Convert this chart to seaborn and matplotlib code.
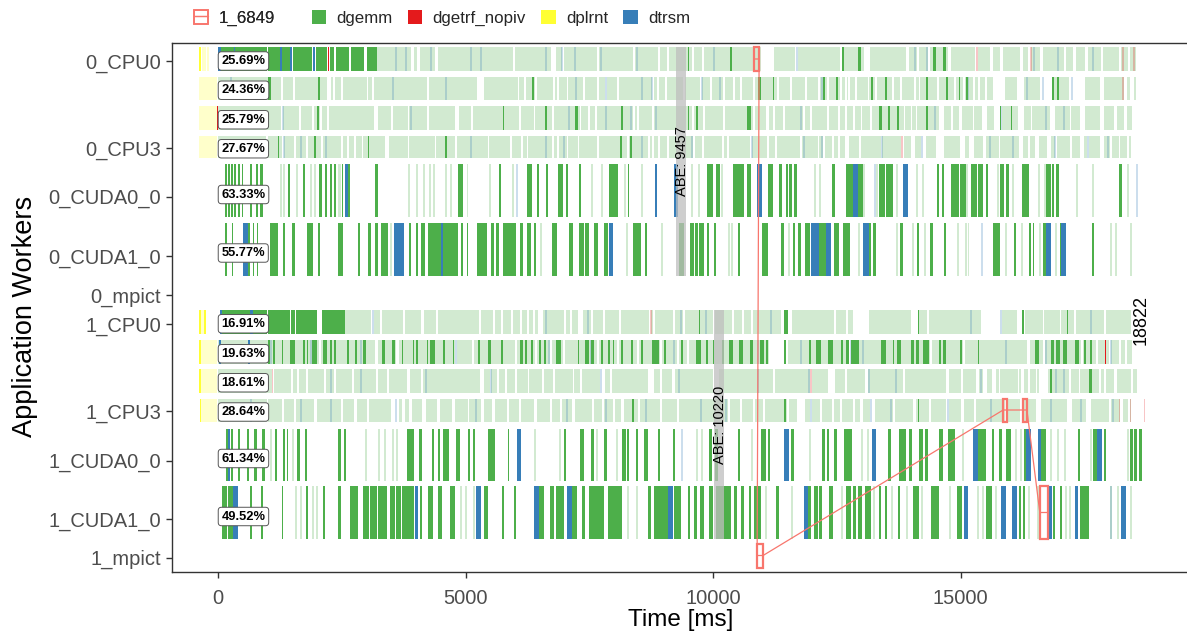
import matplotlib
matplotlib.use("Agg")
import matplotlib.pyplot as plt
from matplotlib.patches import Rectangle, Patch
from matplotlib.lines import Line2D
from matplotlib.legend_handler import HandlerTuple
import seaborn as sns

# ---------------------------------------------------------------- data
# Tasks per worker lane, (start, end) in ms.  "_reg" = regular tasks (drawn faded),
# "_out" = outlier tasks (drawn in full colour).

W0_CPU0 = {
    "dplrnt_out": [(-380, -345)],
    "dplrnt_reg": [(-330, -250), (-230, -180)],
    "dgemm_reg": [(3220, 3900), (3960, 4020), (4080, 4390), (4440, 5950), (5990, 6720), (6820, 6940),
                  (6990, 7650), (7690, 8380), (8420, 8880), (8930, 9070), (9110, 9570), (9620, 9780),
                  (9820, 10970), (11240, 11660), (11710, 12570), (12610, 13050), (13180, 13900),
                  (13950, 14120), (14170, 14350), (14390, 14750), (14800, 15300), (15350, 15600),
                  (15650, 15800), (15850, 16210), (16260, 16370), (16420, 16610), (16660, 17080),
                  (17130, 17280), (17330, 17520), (17570, 17830), (17880, 18190), (18240, 18380),
                  (18420, 18540)],
    "dgemm_out": [(60, 330), (350, 990), (1010, 1460), (1520, 1900), (1980, 2200), (2270, 2350),
                  (2390, 2650), (2690, 2950), (3000, 3220), (9490, 9520), (10340, 10380),
                  (12600, 12650), (12930, 12990), (14450, 14510), (14650, 14710)],
    "dtrsm_reg": [(3580, 3620), (3780, 3820), (4290, 4330), (5100, 5140), (5300, 5340), (6600, 6640),
                  (6920, 6960), (7190, 7230), (7720, 7760), (8440, 8480), (10000, 10040),
                  (11670, 11710), (14060, 14100), (14300, 14340), (16460, 16500), (16940, 16980),
                  (17650, 17690)],
    "dtrsm_out": [(0, 60), (330, 350), (1250, 1300), (1460, 1500), (1920, 1960)],
    "dgetrf_nopiv_reg": [(15320, 15350), (16410, 16440), (18270, 18300), (18490, 18520)],
    "dgetrf_nopiv_out": [(2225, 2250)],
}

W0_CPU1 = {
    "dplrnt_reg": [(-385, -20)],
    "dgemm_reg": [(0, 1270), (1320, 1520), (1560, 2200), (2280, 2330), (2370, 2490), (2530, 3000),
                  (3040, 3120), (3160, 4230), (4270, 5230), (5370, 6050), (6090, 6190), (6230, 6400),
                  (6440, 6760), (6800, 6840), (6880, 7040), (7080, 7370), (7410, 7650), (7690, 7810),
                  (7850, 8060), (8100, 8760), (8800, 8870), (8910, 9030), (9070, 9390), (9430, 9740),
                  (9780, 9940), (9980, 10200), (10240, 10400), (10440, 10550), (10590, 10810),
                  (10850, 11290), (11330, 11550), (11590, 11860), (11900, 12120), (12160, 12300),
                  (12340, 12570), (12610, 12670), (12710, 12730), (12770, 12870), (12910, 13120),
                  (13160, 13280), (13320, 13620), (13660, 13780), (13820, 14050), (14090, 14150),
                  (14190, 14530), (14570, 14860), (14900, 15040), (15080, 15260), (15300, 15360),
                  (15400, 15500), (15540, 15650), (15890, 16130), (16290, 16600), (16840, 17180),
                  (17510, 17810), (17890, 18300), (18360, 18420), (18500, 18540)],
    "dgemm_out": [(1010, 1070), (2020, 2060), (6340, 6380), (10910, 10970), (11210, 11240),
                  (12230, 12270), (12490, 12520), (13200, 13240), (13480, 13520), (14310, 14350),
                  (14710, 14750), (14960, 14990), (15100, 15140), (16840, 16880), (16940, 16980)],
    "dtrsm_reg": [(240, 280), (3520, 3560), (4590, 4630), (7220, 7260), (7810, 7850), (8540, 8580),
                  (8740, 8780), (9760, 9800), (10120, 10160), (12180, 12220), (15120, 15160),
                  (16330, 16370), (16640, 16680), (17240, 17280)],
    "dgetrf_nopiv_reg": [(18260, 18300)],
}

W0_CPU2 = {
    "dplrnt_reg": [(-385, -30)],
    "dgetrf_nopiv_out": [(-30, 0)],
    "dgemm_reg": [(0, 1280), (1310, 1640), (1680, 1900), (1940, 2070), (2100, 2210), (2240, 3150),
                  (3240, 3500), (3540, 3830), (3860, 4230), (4270, 4790), (4860, 5120), (5160, 6090),
                  (6130, 6380), (6410, 6740), (6780, 7310), (7340, 7470), (7510, 7610), (7650, 8380),
                  (8420, 8460), (8500, 8770), (8800, 9570), (9610, 9800), (9830, 10200), (10240, 10810),
                  (10840, 11070), (11140, 11210), (11250, 11420), (11450, 11820), (11860, 11960),
                  (12000, 12310), (12340, 12530), (12570, 12670), (12710, 12830), (12870, 12980),
                  (13010, 13180), (13210, 13850), (13880, 13990), (14020, 14090), (14120, 14560),
                  (14670, 14810), (14850, 14960), (15020, 15260), (15280, 15440), (15540, 15670),
                  (15830, 16150), (16290, 16430), (16450, 16800), (16900, 17200), (17240, 17410),
                  (17510, 17810), (17890, 18090), (18150, 18300), (18360, 18460)],
    "dgemm_out": [(2000, 2040), (5750, 5770), (6600, 6640), (7210, 7270), (8140, 8180), (9490, 9510),
                  (9650, 9690), (10690, 10770), (13360, 13420), (13540, 13580), (13720, 13760),
                  (14310, 14350), (15790, 15810), (16010, 16030)],
    "dtrsm_reg": [(1300, 1340), (3880, 3920), (7070, 7110), (7810, 7850), (8320, 8360), (8830, 8870),
                  (11760, 11800), (14470, 14510), (15800, 15840), (16700, 16740), (17060, 17100)],
}

W0_CPU3 = {
    "dplrnt_reg": [(-385, -20)],
    "dgemm_reg": [(0, 970), (1010, 1300), (1340, 1540), (1580, 1780), (1820, 2090), (2120, 2490),
                  (2530, 2610), (2650, 2750), (2790, 2900), (2930, 3370), (3450, 3830), (3860, 4380),
                  (4410, 4780), (4820, 5450), (5480, 5890), (5930, 6130), (6170, 6240), (6270, 6740),
                  (6780, 6840), (6880, 7040), (7080, 7270), (7300, 7650), (7690, 8260), (8300, 8690),
                  (8720, 8770), (8800, 8890), (8920, 9070), (9110, 9600), (9630, 9780), (9810, 10180),
                  (10220, 10290), (10320, 10750), (10790, 11090), (11130, 11260), (11290, 11760),
                  (11800, 12110), (12140, 12230), (12260, 12410), (12440, 12530), (12570, 12670),
                  (12750, 12950), (12990, 13400), (13420, 13800), (13860, 14000), (14070, 14210),
                  (14310, 14510), (14670, 14980), (15080, 15180), (15280, 15460), (15520, 15770),
                  (15790, 16190), (16270, 16370), (16410, 16500), (16580, 16740), (16820, 16900),
                  (16940, 17200), (17260, 17410), (17490, 17550), (17590, 17810), (17890, 18010),
                  (18050, 18200), (18220, 18360), (18400, 18440)],
    "dgemm_out": [(1210, 1240), (1940, 1980), (3030, 3060), (4590, 4630), (8130, 8160), (8330, 8360)],
    "dtrsm_reg": [(1310, 1350), (1660, 1700), (2160, 2200), (5100, 5140), (6600, 6640), (6960, 7000),
                  (8540, 8580), (9550, 9590), (10760, 10800), (11820, 11860), (12180, 12220),
                  (13400, 13440), (14210, 14250), (15580, 15620), (16030, 16070), (16880, 16920),
                  (17550, 17590), (17950, 17990)],
    "dgetrf_nopiv_reg": [(13790, 13830)],
}

W0_CUDA0 = {
    "dgemm_reg": [(1255, 1295), (1316, 1356), (1579, 1619), (1862, 1902), (1943, 1983), (2429, 2469),
                  (2469, 2490), (3846, 3886), (4008, 4048), (4149, 4189), (4271, 4311), (4352, 4392),
                  (4594, 4634), (4696, 4736), (5020, 5060), (5465, 5505), (5930, 5970), (7529, 7569),
                  (7732, 7772), (8197, 8237), (8541, 8581), (9553, 9593), (9695, 9735), (10160, 10200),
                  (12043, 12083), (12144, 12184), (12893, 12933), (13034, 13074), (13298, 13338),
                  (13399, 13439), (13702, 13742), (14107, 14147), (14229, 14269), (15119, 15159),
                  (15726, 15766), (16030, 16070), (16556, 16596), (16678, 16718), (17325, 17365),
                  (17649, 17689), (18358, 18398)],
    "dgemm_out": [(140, 180), (200, 240), (260, 300), (320, 360), (400, 450), (490, 510), (650, 690),
                  (770, 810), (850, 910), (1420, 1460), (1720, 1760), (2040, 2100), (2170, 2210),
                  (2270, 2310), (2350, 2390), (2510, 2530), (2630, 2670), (3180, 3240), (4840, 4940),
                  (5670, 5710), (6250, 6340), (6440, 6480), (6620, 6660), (6860, 6960), (7020, 7080),
                  (7290, 7330), (7890, 8080), (8280, 8300), (9880, 10000), (10060, 10140),
                  (10400, 10630), (10690, 10770), (11110, 11210), (11330, 11400), (11480, 11520),
                  (11540, 11600), (11640, 11700), (12410, 12470), (12690, 12750), (12750, 12830),
                  (12930, 13030), (13360, 13480), (13500, 13640), (14530, 14570), (14630, 14670),
                  (14800, 14960), (14980, 15100), (15220, 15340), (15360, 15460), (15520, 15560),
                  (15790, 15870), (15910, 15970), (16250, 16390), (16720, 16820), (16840, 16880),
                  (16920, 16980), (18200, 18260)],
    "dtrsm_reg": [(6010, 6050), (12990, 13030), (13250, 13290), (18540, 18580)],
    "dtrsm_out": [(2570, 2630), (8820, 8860), (9210, 9290), (10890, 10990), (12830, 12930),
                  (13840, 13940)],
}

W0_CUDA1 = {
    "dgemm_reg": [(3480, 3520), (6500, 6540), (8240, 8280), (8950, 8990), (10300, 10340),
                  (10360, 10400), (11520, 11560), (12930, 12970), (13700, 13740), (14010, 14050),
                  (14270, 14310), (14920, 14960), (15080, 15120), (15140, 15180), (15890, 15930),
                  (16230, 16270), (16580, 16620), (16900, 16940), (18010, 18050), (18120, 18160),
                  (18420, 18460)],
    "dgemm_out": [(140, 180), (280, 300), (610, 650), (700, 730), (780, 810), (1050, 1210),
                  (1320, 1360), (1500, 1560), (1800, 1920), (2020, 2060), (2430, 2530), (2830, 2870),
                  (3040, 3100), (3180, 3240), (3300, 3440), (3850, 3890), (3990, 4050), (4110, 4190),
                  (4250, 4510), (4550, 4840), (4900, 4940), (5020, 5060), (5240, 5440), (5510, 5570),
                  (5610, 5670), (5750, 6010), (6110, 6170), (6250, 6320), (6380, 6420), (6740, 6840),
                  (7100, 7170), (7290, 7390), (7410, 7490), (7590, 7670), (7790, 7870), (8380, 8540),
                  (8620, 8660), (9310, 9410), (9530, 9610), (9630, 9690), (9720, 9820), (9880, 9920),
                  (10020, 10060), (10500, 10550), (10990, 11110), (11370, 11440), (11620, 11660),
                  (11720, 11780), (11860, 11960), (12140, 12290), (12450, 12550), (12630, 12770),
                  (13160, 13200), (13240, 13300), (13780, 13840), (14110, 14150), (14390, 14450),
                  (14670, 14710), (15650, 15790), (16070, 16110), (16390, 16430), (16460, 16480),
                  (16660, 16720), (17000, 17020), (17650, 17690)],
    "dtrsm_reg": [(15410, 15450)],
    "dtrsm_out": [(510, 610), (3560, 3760), (4510, 4550), (7890, 7970), (11980, 12140),
                  (12290, 12390), (13030, 13160), (16720, 16820), (17020, 17120)],
}

W1_CPU0 = {
    "dplrnt_out": [(-385, -345), (-280, -240)],
    "dplrnt_reg": [(-340, -290)],
    "dgemm_reg": [(2570, 3100), (3160, 3280), (3320, 3730), (3770, 4100), (4160, 4410), (4450, 5280),
                  (5320, 5560), (5600, 5720), (5760, 5920), (5960, 6100), (6140, 6250), (6290, 6360),
                  (6400, 6460), (6560, 6980), (7020, 7120), (7160, 7280), (7380, 7540), (7580, 7770),
                  (7810, 8100), (8140, 8710), (8750, 8790), (8830, 9190), (9230, 9390), (9430, 9990),
                  (10030, 10380), (10420, 10590), (10630, 10770), (10810, 11370), (11590, 12450),
                  (12490, 12690), (12730, 12830), (13160, 13990), (14170, 14330), (14370, 15410),
                  (15830, 16130), (16300, 16660), (16680, 17000), (17020, 17300), (17330, 17900),
                  (17930, 18440)],
    "dgemm_out": [(80, 640), (700, 1000), (1010, 1460), (1480, 1560), (1580, 2000), (2100, 2570),
                  (9710, 9740), (11430, 11520), (14130, 14170), (16250, 16280), (17140, 17170)],
    "dtrsm_reg": [(3110, 3150), (6600, 6640), (7450, 7490), (9330, 9370), (9840, 9880),
                  (11150, 11190), (15190, 15230), (15800, 15840), (17610, 17650)],
    "dtrsm_out": [(40, 80), (640, 700)],
    "dgetrf_nopiv_reg": [(8720, 8760)],
}

W1_CPU1 = {
    "dplrnt_out": [(-385, -345)],
    "dplrnt_reg": [(-345, -20)],
    "dgemm_reg": [(0, 2040), (2090, 3170), (3240, 3600), (3650, 4780), (4820, 5140), (5180, 5990),
                  (6030, 6400), (6440, 6700), (6740, 6960), (7000, 7650), (7690, 8060), (8100, 8460),
                  (8500, 8930), (8970, 9270), (9310, 9470), (9510, 11130), (11520, 12750),
                  (12790, 14390), (14430, 15040), (15080, 16340), (16410, 16660), (16700, 17430),
                  (17470, 17730), (17770, 17990), (18030, 18200), (18240, 18320), (18360, 18460)],
    "dgemm_out": [(1010, 1050), (1110, 1150), (1300, 1320), (1460, 1560), (1720, 1760), (1800, 1820),
                  (1900, 2000), (2130, 2210), (2270, 2310), (2350, 2390), (2610, 2650), (2770, 2810),
                  (2930, 2980), (3320, 3380), (3520, 3580), (3720, 3740), (3930, 3950), (3990, 4050),
                  (4230, 4250), (4290, 4390), (4550, 4590), (4740, 4760), (5260, 5300), (5460, 5510),
                  (5710, 5750), (6110, 6170), (6210, 6250), (6320, 6360), (6480, 6520), (6580, 6620),
                  (6820, 6920), (7270, 7290), (7410, 7490), (7530, 7590), (7730, 7770), (7870, 7910),
                  (7970, 7990), (8140, 8180), (8340, 8380), (8540, 8580), (8760, 8900), (9010, 9050),
                  (9350, 9390), (9650, 9760), (9860, 9900), (10000, 10020), (10180, 10220),
                  (10320, 10400), (10520, 10610), (10750, 10810), (10950, 11030), (11070, 11110),
                  (11430, 11480), (11940, 11980), (12080, 12180), (12330, 12430), (12590, 12630),
                  (12690, 12750), (12790, 12950), (13400, 13500), (13640, 13660), (13720, 13800),
                  (13990, 14050), (14090, 14170), (14250, 14370), (14570, 14610), (14650, 14710),
                  (14980, 15020), (15360, 15380), (16500, 16580), (16820, 16880), (16920, 17000),
                  (17060, 17140), (17310, 17390), (17490, 17530), (17610, 17650)],
    "dtrsm_reg": [(1050, 1090), (1860, 1900), (2870, 2910), (4790, 4830), (6670, 6710), (7510, 7550),
                  (9190, 9230), (10890, 10930), (11760, 11800), (12770, 12810), (13010, 13050),
                  (15900, 15940), (16700, 16740), (18020, 18060)],
    "dtrsm_out": [(30, 70), (600, 640)],
    "dgetrf_nopiv_out": [(17910, 17940)],
}

W1_CPU2 = {
    "dplrnt_out": [(-385, -350)],
    "dplrnt_reg": [(-350, -20)],
    "dgemm_reg": [(0, 1100), (1130, 1480), (1520, 1600), (1640, 1780), (1820, 2150), (2190, 2350),
                  (2390, 2710), (2750, 3200), (3240, 3420), (3460, 3810), (3870, 4110), (4150, 5290),
                  (5380, 5490), (5520, 5630), (5670, 5790), (5830, 5990), (6030, 6260), (6290, 6540),
                  (6580, 6760), (6800, 7170), (7200, 7310), (7350, 7720), (7810, 7920), (7950, 8690),
                  (8800, 8930), (8960, 9170), (9230, 9990), (10110, 11210), (11250, 11960),
                  (12000, 12330), (12460, 12670), (12710, 13070), (13120, 13840), (13880, 14700),
                  (14770, 15000), (15040, 15320), (15380, 15460), (15540, 15630), (15710, 15780),
                  (15800, 16160), (16190, 16220), (16290, 16360), (16400, 16520), (16540, 16580),
                  (16760, 17180), (17230, 17390), (17420, 17610), (17640, 17800), (17830, 17900),
                  (17930, 18100), (18160, 18450), (18490, 18560)],
    "dgemm_out": [(16810, 16840), (17590, 17650)],
    "dtrsm_reg": [(2260, 2300), (2870, 2910), (4180, 4220), (5490, 5530), (7720, 7760), (9290, 9330),
                  (10890, 10930), (11920, 11960), (13130, 13170), (13670, 13710), (15390, 15430),
                  (16910, 16950), (17070, 17110)],
    "dgetrf_nopiv_reg": [(1090, 1110), (11960, 12000)],
}

W1_CPU3 = {
    "dplrnt_out": [(-370, -340)],
    "dplrnt_reg": [(-340, -20)],
    "dgemm_reg": [(0, 980), (1010, 1300), (1340, 1540), (1580, 1940), (1990, 2490), (2530, 2750),
                  (2800, 3010), (3060, 3500), (3660, 3720), (3770, 3860), (3910, 4130), (4210, 4430),
                  (4480, 4730), (4780, 5040), (5080, 5320), (5370, 5540), (5590, 5830), (5870, 6090),
                  (6130, 6390), (6440, 6700), (6740, 6900), (6950, 7160), (7210, 7550), (7590, 7750),
                  (7800, 7970), (8020, 8150), (8200, 8480), (8520, 8920), (8970, 9270), (9310, 10300),
                  (10340, 10540), (10590, 10800), (10850, 11010), (11050, 11500), (11540, 11700),
                  (11860, 11960), (12000, 12160), (12210, 12400), (12450, 12570), (12610, 12830),
                  (12870, 12970), (13020, 13170), (13280, 13640), (13680, 14040), (14090, 14370),
                  (14410, 14710), (14760, 15010), (15060, 15280), (15320, 15900), (15950, 16210),
                  (16250, 16530), (16620, 17140), (17250, 17530), (17630, 17990), (18040, 18230),
                  (18280, 18380), (18420, 18440)],
    "dgemm_out": [(8360, 8400), (11430, 11480), (14130, 14170)],
    "dtrsm_reg": [(650, 690), (1660, 1700), (2260, 2300), (3580, 3620), (5190, 5230), (7030, 7070),
                  (7820, 7860), (8630, 8670), (9740, 9780), (10240, 10280), (11960, 12000),
                  (13170, 13210), (13570, 13610), (14730, 14770), (15600, 15640), (16810, 16850),
                  (17420, 17460), (18060, 18100)],
    "dgetrf_nopiv_reg": [(18200, 18230), (18420, 18450), (18700, 18730)],
}

W1_CUDA0 = {
    "dgemm_reg": [(1052, 1092), (1498, 1538), (2975, 3015), (3238, 3278), (3360, 3400), (3522, 3562),
                  (3603, 3643), (6376, 6416), (6882, 6922), (7630, 7670), (8035, 8075), (9654, 9694),
                  (9756, 9796), (10768, 10808), (11942, 11982), (12994, 13034), (13116, 13156),
                  (15038, 15078), (16091, 16131), (16192, 16232), (16799, 16839), (16941, 16981),
                  (17083, 17123), (17609, 17649), (18358, 18398)],
    "dgemm_out": [(160, 200), (260, 300), (400, 450), (590, 630), (730, 790), (890, 950), (1150, 1190),
                  (1320, 1360), (1400, 1420), (1600, 1660), (1760, 1800), (2430, 2490), (2550, 2590),
                  (3810, 3950), (4070, 4130), (4330, 4370), (4450, 4490), (4550, 4660), (4800, 4880),
                  (5060, 5100), (5160, 5200), (5460, 5590), (5850, 5870), (6980, 7020), (7310, 7390),
                  (7530, 7590), (7790, 7850), (8160, 8240), (8260, 8300), (8440, 8480), (8600, 8680),
                  (8890, 8930), (9190, 9230), (9920, 9980), (10040, 10100), (10500, 10550),
                  (10970, 11070), (11110, 11150), (11580, 11640), (12200, 12270), (12310, 12350),
                  (12450, 12510), (12650, 12750), (12750, 12810), (13540, 13600), (13760, 13900),
                  (13950, 14010), (14150, 14250), (14290, 14350), (14570, 14650), (14750, 14880),
                  (15360, 15520), (15630, 15670), (15770, 15830), (15910, 16010), (16290, 16330),
                  (16620, 16720), (17370, 17410), (17670, 17750), (17890, 17930), (18420, 18480),
                  (18500, 18560), (18600, 18660)],
    "dtrsm_reg": [(9350, 9390)],
    "dtrsm_out": [(200, 240), (6030, 6130), (11440, 11540), (13220, 13300), (15260, 15360),
                  (16330, 16430), (16560, 16620), (17750, 17850)],
}

W1_CUDA1 = {
    "dgemm_reg": [(1558, 1598), (1660, 1700), (1903, 1943), (1983, 2023), (4898, 4938), (4999, 5039),
                  (5161, 5201), (8258, 8298), (8440, 8480), (11051, 11091), (11577, 11617),
                  (12589, 12629), (13237, 13277), (13601, 13641), (13905, 13945), (14209, 14249),
                  (14775, 14815), (15322, 15362), (15423, 15463), (15686, 15726), (16354, 16394),
                  (16536, 16576), (17103, 17143), (17184, 17224), (18014, 18054), (18155, 18195),
                  (18419, 18459)],
    "dgemm_out": [(80, 180), (200, 300), (650, 690), (870, 910), (1300, 1320), (1780, 1820),
                  (2130, 2170), (2430, 2490), (2670, 2830), (2930, 3060), (3080, 3220), (3240, 3320),
                  (3320, 3420), (3480, 3580), (3600, 3700), (3720, 3950), (4090, 4130), (4250, 4350),
                  (4450, 4530), (4680, 4780), (5380, 5460), (5730, 5770), (5970, 6010), (6480, 6580),
                  (6700, 6780), (6820, 6980), (7140, 7250), (7350, 7410), (7490, 7790), (7870, 8160),
                  (8680, 8740), (8800, 9090), (9210, 9350), (9490, 9530), (9610, 9670), (9740, 9820),
                  (9920, 10000), (10060, 10360), (10420, 10480), (10570, 10630), (10730, 10770),
                  (10830, 10970), (11270, 11330), (11920, 11980), (12040, 12120), (12140, 12200),
                  (12350, 12430), (12690, 12790), (12830, 12890), (12930, 13010), (13070, 13200),
                  (13360, 13400), (13480, 13520), (13740, 13780), (14030, 14150), (14410, 14570),
                  (14920, 15020), (15520, 15630), (16190, 16230), (16270, 16310), (16860, 16900),
                  (17000, 17040), (17410, 17590)],
    "dtrsm_reg": [(16090, 16130), (18010, 18050)],
    "dtrsm_out": [(300, 400), (3970, 4030), (5220, 5320), (6380, 6480), (7040, 7150), (9090, 9190),
                  (11840, 11920), (15060, 15140), (15810, 15910), (16030, 16130), (16740, 16840),
                  (17310, 17370), (18240, 18340)],
}

# Worker lanes: name, tasks, busy percentage
LANE_NAMES = ["0_CPU0", "0_CPU1", "0_CPU2", "0_CPU3", "0_CUDA0_0", "0_CUDA1_0",
              "1_CPU0", "1_CPU1", "1_CPU2", "1_CPU3", "1_CUDA0_0", "1_CUDA1_0"]
LANE_TASKS = [W0_CPU0, W0_CPU1, W0_CPU2, W0_CPU3, W0_CUDA0, W0_CUDA1,
              W1_CPU0, W1_CPU1, W1_CPU2, W1_CPU3, W1_CUDA0, W1_CUDA1]
BUSY_PCT = ["25.69%", "24.36%", "25.79%", "27.67%", "63.33%", "55.77%",
            "16.91%", "19.63%", "18.61%", "28.64%", "61.34%", "49.52%"]

# Critical path of task 1_6849 (lane, start, end)
PATH_LANES = ["0_CPU0", "1_mpict", "1_CPU3", "1_CPU3", "1_CUDA1_0"]
PATH_START = [10830, 10890, 15860, 16260, 16600]
PATH_END = [10930, 11010, 15940, 16340, 16770]
PATH_NAME = "1_6849"

# Anticipated bound estimate per node, and makespan
ABE_NODES = ["0", "1"]
ABE_VALUES = [9457, 10220]
MAKESPAN = 18822

Y_TICK_LABELS = ["0_CPU0", "0_CPU3", "0_CUDA0_0", "0_CUDA1_0", "0_mpict",
                 "1_CPU0", "1_CPU3", "1_CUDA0_0", "1_CUDA1_0", "1_mpict"]
X_TICKS = [0, 5000, 10000, 15000]

# ---------------------------------------------------------------- layout (vertical lane geometry)
LANE_EXTENT = {
    "0_CPU0": (47, 71), "0_CPU1": (76.5, 100), "0_CPU2": (106, 129.5), "0_CPU3": (135.5, 158),
    "0_CUDA0_0": (164, 217), "0_CUDA1_0": (222.5, 275.5),
    "1_CPU0": (310, 333.5), "1_CPU1": (340, 363.5), "1_CPU2": (369, 392.5), "1_CPU3": (398.5, 421.5),
    "1_CUDA0_0": (428.5, 480.5), "1_CUDA1_0": (486, 539), "1_mpict": (543.5, 567.5),
}
Y_TICK_POS = [61, 148.3, 196.7, 256, 295, 324, 411, 460.7, 519, 557.7]
NODE_SPAN = {"0": (47, 275.5), "1": (310, 539)}
Y_LIMITS = (572, 42.5)
X_LIMITS = (-929, 19735)

# ---------------------------------------------------------------- style
sns.set_theme(style="ticks")
plt.rcParams["font.family"] = ["Liberation Sans", "DejaVu Sans"]

set1 = sns.color_palette("Set1")
STATE_COLORS = {"dgemm": set1[2], "dgetrf_nopiv": set1[0], "dplrnt": set1[5], "dtrsm": set1[1]}
PATH_COLOR = "#F8766D"
REG_ALPHA = 0.25

fig = plt.figure(figsize=(11.87, 6.37), dpi=100)
W, H = 1187, 637
ax = fig.add_axes([172 / W, 1 - 572 / H, (1195 - 172) / W, (572 - 42.5) / H])

# ---------------------------------------------------------------- draw tasks
for name, tasks in zip(LANE_NAMES, LANE_TASKS):
    top, bottom = LANE_EXTENT[name]
    for layer in ("reg", "out"):
        for state in ("dplrnt", "dgemm", "dtrsm", "dgetrf_nopiv"):
            spans = tasks.get(f"{state}_{layer}", [])
            if not spans:
                continue
            ax.broken_barh([(a, b - a) for a, b in spans], (top, bottom - top),
                           facecolors=STATE_COLORS[state], edgecolor="none", linewidth=0,
                           alpha=REG_ALPHA if layer == "reg" else 1.0)

# ---------------------------------------------------------------- ABE bands
for node, abe in zip(ABE_NODES, ABE_VALUES):
    top, bottom = NODE_SPAN[node]
    ax.add_patch(Rectangle((abe - 200, top), 200, bottom - top, facecolor="#bebebe",
                           edgecolor="none", alpha=0.75, zorder=3))
    ax.text(abe - 80, (top + bottom) / 2, f"ABE: {abe}", rotation=90, ha="center", va="center",
            fontsize=10.5, color="black", zorder=4)

ax.text(MAKESPAN, 320, f"{MAKESPAN}", rotation=90, ha="right", va="center", fontsize=13,
        color="black")

# ---------------------------------------------------------------- busy-percentage labels
for name, pct in zip(LANE_NAMES, BUSY_PCT):
    top, bottom = LANE_EXTENT[name]
    shift = 4 if "CUDA" in name else 2
    ax.annotate(pct, xy=(0, (top + bottom) / 2 + shift), xytext=(2.5, 0),
                textcoords="offset points", ha="left", va="center", fontsize=9.3,
                fontweight="bold", color="black", zorder=6,
                bbox=dict(boxstyle="round,pad=0.25,rounding_size=0.25", fc="white",
                          ec="#555555", lw=0.7))

# ---------------------------------------------------------------- critical path
pts_x, pts_y = [], []
for lane, s, e in zip(PATH_LANES, PATH_START, PATH_END):
    top, bottom = LANE_EXTENT[lane]
    yc = (top + bottom) / 2
    ax.add_patch(Rectangle((s, top), e - s, bottom - top, fill=False, edgecolor=PATH_COLOR,
                           linewidth=1.6, zorder=5))
    pts_x += [s, e]
    pts_y += [yc, yc]
ax.plot(pts_x, pts_y, color=PATH_COLOR, linewidth=0.9, zorder=5)

# ---------------------------------------------------------------- axes
ax.set_xlim(*X_LIMITS)
ax.set_ylim(*Y_LIMITS)
ax.set_xticks(X_TICKS, [str(t) for t in X_TICKS])
ax.set_yticks(Y_TICK_POS, Y_TICK_LABELS)
ax.tick_params(axis="both", length=4, width=1, color="#333333", labelcolor="#4d4d4d",
               labelsize=14.5)
ax.tick_params(axis="y", pad=4)
ax.tick_params(axis="x", pad=8)
for sp in ax.spines.values():
    sp.set_color("#333333")
    sp.set_linewidth(1.0)
ax.grid(False)

fig.text(681 / W, 1 - 620 / H, "Time [ms]", ha="center", va="center", fontsize=17.5, color="black")
fig.text(25 / W, 1 - 316 / H, "Application Workers", ha="center", va="center", rotation=90,
         fontsize=19.5, color="black")

# ---------------------------------------------------------------- legends
path_handle = (Rectangle((0, 0), 1, 1, fill=False, edgecolor=PATH_COLOR, linewidth=1.2),
               Line2D([0, 1], [0, 0], color=PATH_COLOR, linewidth=0.9))
leg1 = fig.legend([path_handle], [PATH_NAME], loc="center left",
                  bbox_to_anchor=(194 / W, 1 - 18 / H), frameon=False, fontsize=12.2,
                  handlelength=0.85, handleheight=0.85, handletextpad=0.6, borderpad=0,
                  borderaxespad=0, handler_map={tuple: HandlerTuple(ndivide=1)})
state_names = list(STATE_COLORS)
state_handles = [Patch(facecolor=STATE_COLORS[s], edgecolor="none") for s in state_names]
fig.legend(state_handles, state_names, loc="center left", bbox_to_anchor=(312 / W, 1 - 18 / H),
           ncol=4, frameon=False, fontsize=12.2, handlelength=0.85, handleheight=0.85,
           handletextpad=0.6, columnspacing=0.9, borderpad=0, borderaxespad=0)
fig.add_artist(leg1)

fig.savefig("out.png", dpi=100)
